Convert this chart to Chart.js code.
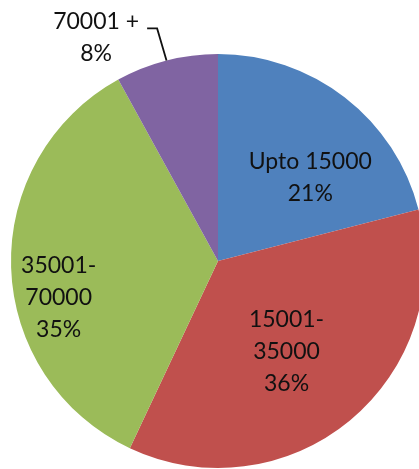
<!DOCTYPE html>
<html>
<head>
<meta charset="utf-8">
<script src="https://cdn.jsdelivr.net/npm/chart.js@4.4.1/dist/chart.umd.min.js"></script>
<style>
  html, body { margin: 0; padding: 0; background: #fff; overflow: hidden; }
  #wrap { position: absolute; left: 0; top: 0; width: 430px; height: 469px; }
</style>
</head>
<body>
<div id="wrap"><canvas id="pie"></canvas></div>
<script>
// income bands, share in percent
const bandLabels = [['Upto 15000'], ['15001-', '35000'], ['35001-', '70000'], ['70001 +']];
const bandShares = [21, 36, 35, 8];
const bandColors = ['#4F81BD', '#C0504D', '#9BBB59', '#8064A2'];

// where each label sits: angle (deg from top, clockwise) and distance as a fraction of the radius
const labelSpots = [
    { angle: 48, dist: 0.60 },
    { angle: 143, dist: 0.55 },
    { angle: 257, dist: 0.79 },
    { angle: 331.4, dist: 1.23, leader: true }
];

const sliceLabels = {
    id: 'sliceLabels',
    afterDatasetsDraw(chart) {
        const ctx = chart.ctx;
        const arcs = chart.getDatasetMeta(0).data;
        ctx.save();
        ctx.font = '23px Lato';
        ctx.fillStyle = '#111';
        ctx.textAlign = 'center';
        ctx.textBaseline = 'middle';
        arcs.forEach((arc, i) => {
            const spot = labelSpots[i];
            const a = (spot.angle - 90) * Math.PI / 180;
            const lx = arc.x + Math.cos(a) * arc.outerRadius * spot.dist;
            const ly = arc.y + Math.sin(a) * arc.outerRadius * spot.dist;
            const lines = bandLabels[i].concat([bandShares[i] + '%']);
            const gap = 32;
            const top = ly - (lines.length - 1) * gap / 2;
            lines.forEach((t, k) => ctx.fillText(t, lx, top + k * gap));

            if (spot.leader) {
                const mid = (arc.startAngle + arc.endAngle) / 2;
                const ex = arc.x + Math.cos(mid) * arc.outerRadius;
                const ey = arc.y + Math.sin(mid) * arc.outerRadius;
                const endX = lx + 51;
                const endY = top + 7;
                ctx.strokeStyle = '#111';
                ctx.lineWidth = 1.8;
                ctx.beginPath();
                ctx.moveTo(ex, ey);
                ctx.lineTo(endX + 10, endY);
                ctx.lineTo(endX, endY);
                ctx.stroke();
            }
        });
        ctx.restore();
    }
};

new Chart(document.getElementById('pie'), {
    type: 'pie',
    data: {
        labels: bandLabels.map(l => l.join(' ')),
        datasets: [{
            data: bandShares,
            backgroundColor: bandColors,
            borderWidth: 0
        }]
    },
    options: {
        responsive: true,
        maintainAspectRatio: false,
        animation: false,
        layout: { padding: { left: 11, top: 54, right: 5, bottom: 1 } },
        plugins: {
            legend: { display: false },
            tooltip: { enabled: false }
        }
    },
    plugins: [sliceLabels]
});
</script>
</body>
</html>
